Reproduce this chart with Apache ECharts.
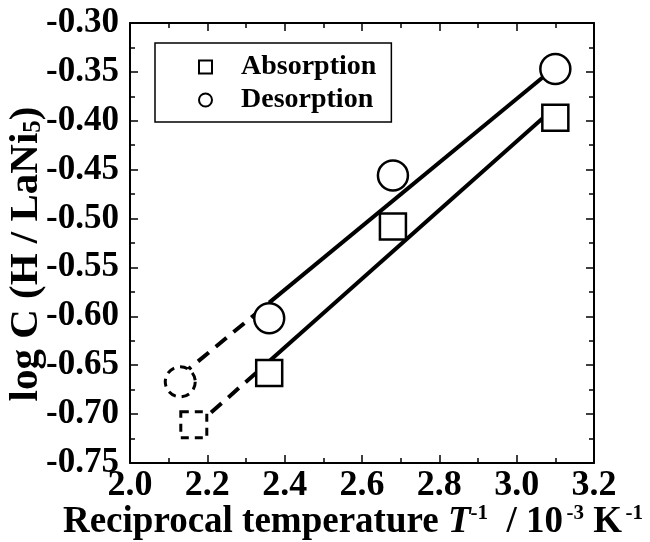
<!DOCTYPE html>
<html>
<head>
<meta charset="utf-8">
<script src="https://cdn.jsdelivr.net/npm/echarts@6/dist/echarts.min.js"></script>
<style>
  html, body { margin: 0; padding: 0; background: #ffffff; }
  #chart { width: 650px; height: 542px; }
</style>
</head>
<body>
<div id="chart"></div>
<script>
// Measured hydrogen content vs reciprocal temperature
const absorptionPoints = [[2.36, -0.658], [2.68, -0.508], [3.10, -0.397]];
const desorptionPoints = [[2.36, -0.602], [2.68, -0.456], [3.10, -0.347]];
// Points off the linear trend (dashed outline)
const absorptionOutlier = [[2.165, -0.711]];
const desorptionOutlier = [[2.13, -0.667]];
// Linear fit segments and their dashed extrapolation
const absorptionFit = [[2.36, -0.646], [3.10, -0.386]];
const absorptionFitExt = [[2.165, -0.714], [2.36, -0.646]];
const desorptionFit = [[2.36, -0.586], [3.10, -0.345]];
const desorptionFitExt = [[2.13, -0.661], [2.36, -0.586]];
// Axis ranges
const xRange = [2.0, 3.2];
const yRange = [-0.75, -0.30];

const FONT = '"Liberation Serif", "Times New Roman", serif';
const chart = echarts.init(document.getElementById('chart'));

const tickBase = {
  axisLine: { show: true, onZero: false, lineStyle: { color: '#000', width: 2 } },
  axisTick: { show: true, inside: true, length: 8, lineStyle: { color: '#000', width: 1.5 } },
  minorTick: { show: true, splitNumber: 2, length: 5, lineStyle: { color: '#000', width: 1.5 } },
  splitLine: { show: false },
  minorSplitLine: { show: false }
};

function xAxisDef(pos, withLabels) {
  return Object.assign({
    type: 'value', position: pos, min: xRange[0], max: xRange[1], interval: 0.2,
    axisLabel: {
      show: withLabels, margin: 6, color: '#000', fontFamily: FONT, fontWeight: 'bold', fontSize: 36,
      lineHeight: 34, formatter: v => v.toFixed(1)
    }
  }, tickBase);
}
function yAxisDef(pos, withLabels) {
  return Object.assign({
    type: 'value', position: pos, min: yRange[0], max: yRange[1], interval: 0.05,
    axisLabel: {
      show: withLabels, margin: 11, color: '#000', fontFamily: FONT, fontWeight: 'bold', fontSize: 35,
      formatter: v => v.toFixed(2)
    }
  }, tickBase);
}

const xBottom = xAxisDef('bottom', true);
xBottom.name = '{t|Reciprocal temperature }{i|T}{s|-1}{t|  / 10}{g| }{s|-3}{t| K}{g| }{s|-1}';
xBottom.nameLocation = 'middle';
xBottom.nameGap = 40;
xBottom.nameMoveOverlap = false;
xBottom.nameTextStyle = {
  padding: [0, 18, 0, 0],
  rich: {
    t: { fontFamily: FONT, fontWeight: 'bold', fontSize: 37, color: '#000', lineHeight: 38 },
    i: { fontFamily: FONT, fontWeight: 'bold', fontStyle: 'italic', fontSize: 37, color: '#000', lineHeight: 38 },
    g: { fontFamily: FONT, fontWeight: 'bold', fontSize: 14, color: '#000' },
    s: { fontFamily: FONT, fontWeight: 'bold', fontSize: 21, color: '#000', verticalAlign: 'top', padding: [0, 0, 13, 0] }
  }
};

const yLeft = yAxisDef('left', true);
yLeft.name = '{t|log C (H / LaNi}{s|5}{t|)}';
yLeft.nameLocation = 'middle';
yLeft.nameRotate = 90;
yLeft.nameGap = 84;
yLeft.nameMoveOverlap = false;
yLeft.nameTextStyle = {
  padding: [0, 22, 0, 0],
  rich: {
    t: { fontFamily: FONT, fontWeight: 'bold', fontSize: 41, color: '#000', lineHeight: 38 },
    s: { fontFamily: FONT, fontWeight: 'bold', fontSize: 25, color: '#000', verticalAlign: 'bottom', padding: [14, 0, 0, 0] }
  }
};

const markerStyle = { color: '#fff', borderColor: '#000', borderWidth: 2.5, opacity: 1 };
const dashedMarker = { color: '#fff', borderColor: '#000', borderWidth: 3, borderType: [8, 6], opacity: 1 };

chart.setOption({
  animation: false,
  backgroundColor: '#fff',
  grid: { left: 130, right: 56, top: 23, bottom: 79, containLabel: false, outerBoundsMode: 'none' },
  xAxis: [xBottom, xAxisDef('top', false)],
  yAxis: [yLeft, yAxisDef('right', false)],
  legend: {
    data: ['Absorption', 'Desorption'],
    orient: 'vertical',
    left: 155, top: 43,
    padding: [10, 15, 8, 43],
    itemGap: 5,
    itemWidth: 13, itemHeight: 13,
    borderColor: '#000', borderWidth: 1.5,
    backgroundColor: '#fff',
    textStyle: { fontFamily: FONT, fontWeight: 'bold', fontSize: 28, color: '#000', padding: [0, 0, 0, 24] }
  },
  series: [
    { type: 'line', data: absorptionFit, symbol: 'none', lineStyle: { color: '#000', width: 4 }, z: 1, silent: true },
    { type: 'line', data: absorptionFitExt, symbol: 'none', lineStyle: { color: '#000', width: 4, type: [14, 9] }, z: 1, silent: true },
    { type: 'line', data: desorptionFit, symbol: 'none', lineStyle: { color: '#000', width: 4 }, z: 1, silent: true },
    { type: 'line', data: desorptionFitExt, symbol: 'none', lineStyle: { color: '#000', width: 4, type: [14, 9] }, z: 1, silent: true },
    { name: 'Absorption', type: 'scatter', data: absorptionPoints, symbol: 'rect', symbolSize: 26, itemStyle: markerStyle, z: 3 },
    { name: 'Desorption', type: 'scatter', data: desorptionPoints, symbol: 'circle', symbolSize: 30, itemStyle: markerStyle, z: 3 },
    { type: 'scatter', data: absorptionOutlier, symbol: 'rect', symbolSize: 26, itemStyle: dashedMarker, z: 3 },
    { type: 'scatter', data: desorptionOutlier, symbol: 'circle', symbolSize: 30, itemStyle: dashedMarker, z: 3 }
  ]
});
</script>
</body>
</html>
